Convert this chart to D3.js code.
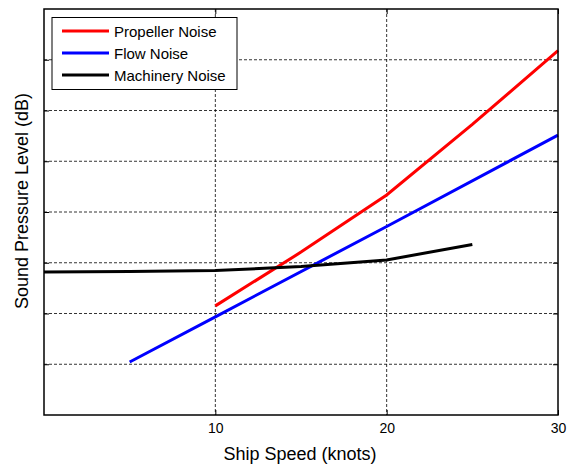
<!DOCTYPE html>
<html>
<head>
<meta charset="utf-8">
<script src="https://cdn.jsdelivr.net/npm/d3@7"></script>
<style>
body { margin: 0; background: #fff; }
text { font-family: "Liberation Sans", Arial, sans-serif; }
</style>
</head>
<body>
<div id="chart"></div>
<script>
// Data (y in arbitrary dB units, no labels shown)
const speedTicks = [10, 20, 30];
const levelTicks = [20, 40, 60, 80, 100, 120, 140];
const seriesNames = ["Propeller Noise", "Flow Noise", "Machinery Noise"];
const seriesColors = ["#ff0000", "#0000ff", "#000000"];
const propellerNoise = [[10, 43.0], [15, 64.2], [20, 86.7], [25, 114.5], [30, 143.6]];
const flowNoise = [[5, 20.9], [10, 38.7], [20, 74.3], [30, 110.3]];
const machineryNoise = [[0, 56.4], [5, 56.6], [10, 56.9], [15, 58.5], [20, 61.1], [25, 67.2]];

const W = 574, H = 465;
const margin = { left: 44, top: 9, right: 16, bottom: 50 };
const iw = W - margin.left - margin.right, ih = H - margin.top - margin.bottom;

const svg = d3.select("#chart").append("svg").attr("width", W).attr("height", H);
const g = svg.append("g").attr("transform", `translate(${margin.left},${margin.top})`);

const x = d3.scaleLinear().domain([0, 30]).range([0, iw]);
const y = d3.scaleLinear().domain([0, 160]).range([ih, 0]);

// dashed grid
g.append("g").selectAll("line").data(levelTicks).enter().append("line")
    .attr("x1", 0).attr("x2", iw)
    .attr("y1", d => y(d)).attr("y2", d => y(d))
    .attr("stroke", "#000").attr("stroke-width", 0.8).attr("stroke-dasharray", "3,2");
g.append("g").selectAll("line").data(speedTicks.slice(0, 2)).enter().append("line")
    .attr("y1", 0).attr("y2", ih)
    .attr("x1", d => x(d)).attr("x2", d => x(d))
    .attr("stroke", "#000").attr("stroke-width", 0.8).attr("stroke-dasharray", "3,2");

// series
const line = d3.line().x(d => x(d[0])).y(d => y(d[1]));
[propellerNoise, flowNoise, machineryNoise].forEach((s, i) => {
    g.append("path").datum(s)
        .attr("fill", "none")
        .attr("stroke", seriesColors[i])
        .attr("stroke-width", 3)
        .attr("d", line);
});

// axes with inward ticks on all sides
const tk = 5;
g.append("g").attr("transform", `translate(0,${ih})`)
    .call(d3.axisBottom(x).tickValues(speedTicks).tickSize(-tk).tickPadding(8))
    .call(a => a.select(".domain").remove())
    .call(a => a.selectAll("text").attr("font-size", 14).attr("fill", "#000"));
g.append("g")
    .call(d3.axisTop(x).tickValues(speedTicks).tickSize(-tk).tickFormat(""))
    .call(a => a.select(".domain").remove());
g.append("g")
    .call(d3.axisLeft(y).tickValues(levelTicks).tickSize(-tk).tickFormat(""))
    .call(a => a.select(".domain").remove());
g.append("g").attr("transform", `translate(${iw},0)`)
    .call(d3.axisRight(y).tickValues(levelTicks).tickSize(-tk).tickFormat(""))
    .call(a => a.select(".domain").remove());

g.append("rect").attr("width", iw).attr("height", ih)
    .attr("fill", "none").attr("stroke", "#000").attr("stroke-width", 1.5);

// axis titles
svg.append("text").attr("x", 300).attr("y", 460)
    .attr("text-anchor", "middle").attr("font-size", 18).text("Ship Speed (knots)");
svg.append("text").attr("transform", "translate(28,201) rotate(-90)")
    .attr("text-anchor", "middle").attr("font-size", 18).text("Sound Pressure Level (dB)");

// legend
const lg = svg.append("g").attr("transform", "translate(52,17.5)");
lg.append("rect").attr("width", 185).attr("height", 72)
    .attr("fill", "#fff").attr("stroke", "#000").attr("stroke-width", 1);
seriesNames.forEach((name, i) => {
    const yy = 13.5 + i * 22;
    lg.append("line").attr("x1", 10).attr("x2", 57).attr("y1", yy).attr("y2", yy)
        .attr("stroke", seriesColors[i]).attr("stroke-width", 3);
    lg.append("text").attr("x", 62).attr("y", yy + 5.5)
        .attr("font-size", 15).text(name);
});
</script>
</body>
</html>
